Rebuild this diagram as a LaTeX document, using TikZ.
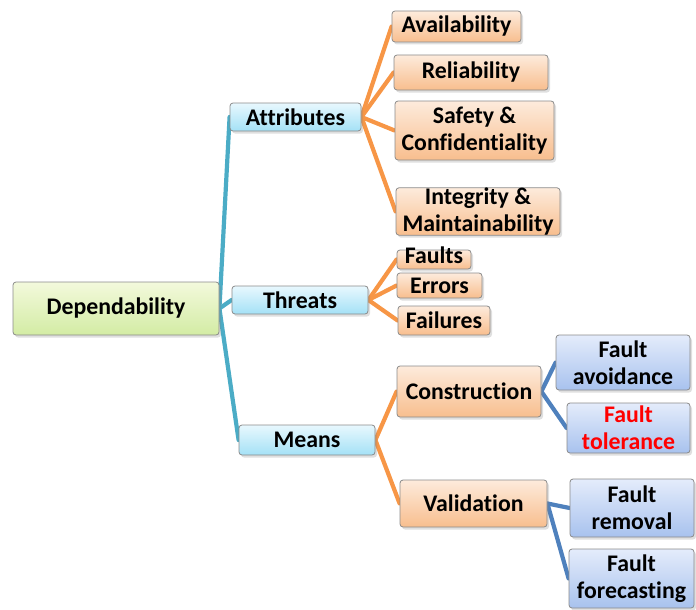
\documentclass[tikz,border=0pt]{standalone}
\usepackage{fontspec}
\setmainfont{Carlito}[Ligatures=NoCommon]
\usetikzlibrary{shadows,backgrounds}
\definecolor{tealline}{HTML}{4BACC6}
\definecolor{orangeline}{HTML}{F79646}
\definecolor{blueline}{HTML}{4F81BD}
\definecolor{boxborder}{HTML}{8A8A8A}
\definecolor{faultred}{HTML}{FF0000}
\definecolor{greentop}{HTML}{F3F9DC}
\definecolor{greenbot}{HTML}{D3ECA4}
\definecolor{cyantop}{HTML}{E8F8FE}
\definecolor{cyanbot}{HTML}{A4E1F6}
\definecolor{orangetop}{HTML}{FDEBDC}
\definecolor{orangebot}{HTML}{F8BE8E}
\definecolor{bluetop}{HTML}{E4ECFB}
\definecolor{bluebot}{HTML}{A8C2EE}
\begin{document}
\begin{tikzpicture}[x=1pt,y=-1pt,
  box/.style={draw=boxborder, line width=0.8pt, rounded corners=3pt,
    font=\bfseries\fontsize{23.8}{27}\selectfont, align=center, inner sep=0pt,
    drop shadow={opacity=0.25, shadow xshift=2pt, shadow yshift=-2.5pt}},
  greenbox/.style={box, top color=greentop, bottom color=greenbot},
  cyanbox/.style={box, top color=cyantop, bottom color=cyanbot},
  orangebox/.style={box, top color=orangetop, bottom color=orangebot},
  bluebox/.style={box, top color=bluetop, bottom color=bluebot},
  link/.style={line width=4.2pt, line cap=round, line join=round},
  tealconn/.style={link, draw=tealline},
  orangeconn/.style={link, draw=orangeline},
  blueconn/.style={link, draw=blueline}]
\useasboundingbox (0,0) rectangle (696,610);

% root
\node[greenbox, minimum width=206pt, minimum height=53pt] (dep) at (116,308.5) {Dependability};

% first level
\node[cyanbox, minimum width=131pt, minimum height=28pt] (att) at (295.5,117) {Attributes};
\node[cyanbox, minimum width=136pt, minimum height=28pt] (thr) at (300,300) {Threats};
\node[cyanbox, minimum width=136pt, minimum height=30pt] (mea) at (307,440) {Means};

% attributes
\node[orangebox, minimum width=129pt, minimum height=31pt] (ava) at (456.5,26.5) {Availability};
\node[orangebox, minimum width=154pt, minimum height=35pt] (rel) at (471,72.5) {Reliability};
\node[orangebox, minimum width=159pt, minimum height=59pt] (saf) at (474.5,130.5) {Safety \&\\Confidentiality};
\node[orangebox, minimum width=164pt, minimum height=47pt] (int) at (478,211.5) {Integrity \&\\Maintainability};

% threats
\node[orangebox, align=none, text height=11pt, text depth=3pt, minimum width=74pt, minimum height=19pt] (fau) at (434,259.5) {Faults};
\node[orangebox, minimum width=85pt, minimum height=25pt] (err) at (439.5,285.5) {Errors};
\node[orangebox, minimum width=92pt, minimum height=29pt] (fai) at (444,320.5) {Failures};

% means
\node[orangebox, minimum width=144pt, minimum height=51pt] (con) at (469,391.5) {Construction};
\node[orangebox, minimum width=147pt, minimum height=47pt] (val) at (473.5,503.5) {Validation};

% construction / validation techniques
\node[bluebox, minimum width=134pt, minimum height=55pt] (fav) at (623,362.5) {Fault\\avoidance};
\node[bluebox, minimum width=123pt, minimum height=50pt, text=faultred] (ftl) at (628.5,428) {Fault\\tolerance};
\node[bluebox, minimum width=124pt, minimum height=58pt] (frm) at (632,508) {Fault\\removal};
\node[bluebox, minimum width=125pt, minimum height=59pt] (ffc) at (631.5,578.5) {Fault\\forecasting};

\begin{scope}[on background layer]
  \foreach \c in {att,thr,mea} \draw[tealconn] (dep.east) -- (\c.west);
  \foreach \c in {ava,rel,saf,int} \draw[orangeconn] (att.east) -- (\c.west);
  \foreach \c in {fau,err,fai} \draw[orangeconn] (thr.east) -- (\c.west);
  \foreach \c in {con,val} \draw[orangeconn] (mea.east) -- (\c.west);
  \foreach \c in {fav,ftl} \draw[blueconn] (con.east) -- (\c.west);
  \foreach \c in {frm,ffc} \draw[blueconn] (val.east) -- (\c.west);
\end{scope}
\end{tikzpicture}
\end{document}
